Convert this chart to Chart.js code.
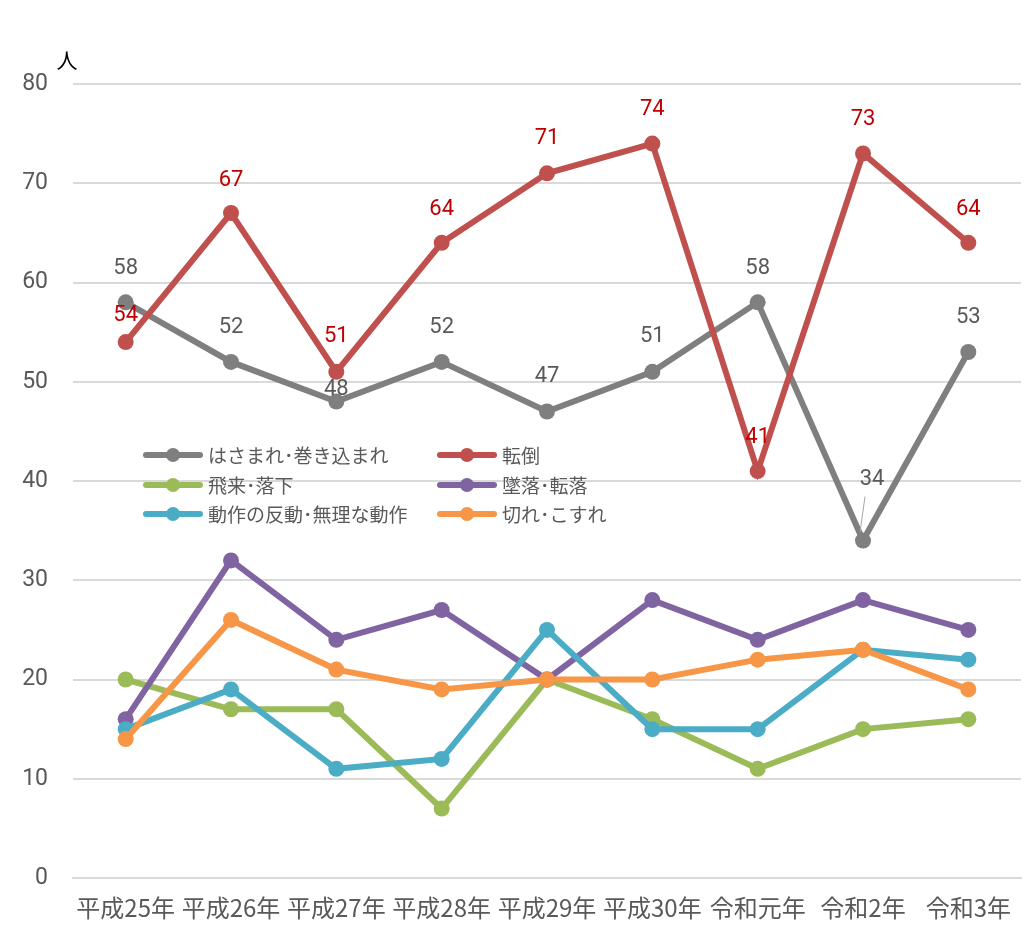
<!DOCTYPE html>
<html><head><meta charset="utf-8">
<script src="https://cdn.jsdelivr.net/npm/chart.js@4"></script>
<style>html,body{margin:0;padding:0;background:#fff}#wrap{width:1024px;height:926px}</style>
</head><body><div id="wrap"><canvas id="c" width="1024" height="926"></canvas></div>
<script>
const categories = ['平成25年','平成26年','平成27年','平成28年','平成29年','平成30年','令和元年','令和2年','令和3年'];
const seriesNames = ['はさまれ･巻き込まれ','転倒','飛来･落下','墜落･転落','動作の反動･無理な動作','切れ･こすれ'];
const hasamare = [58,52,48,52,47,51,58,34,53];
const tentou = [54,67,51,64,71,74,41,73,64];
const hirai = [20,17,17,7,20,16,11,15,16];
const tsuiraku = [16,32,24,27,20,28,24,28,25];
const handou = [15,19,11,12,25,15,15,23,22];
const kire = [14,26,21,19,20,20,22,23,19];
const yTicks = [0,10,20,30,40,50,60,70,80];
const unitLabel = '人';

const colors = ['#7f7f7f','#c0504d','#9bbb59','#8064a2','#4bacc6','#f79646'];
const allData = [hasamare,tentou,hirai,tsuiraku,handou,kire];

const datasets = allData.map((d,i)=>({
  label: seriesNames[i], data: d, borderColor: colors[i], backgroundColor: colors[i],
  borderWidth: 6, pointRadius: 8, pointHoverRadius: 8, pointBorderWidth: 0,
  tension: 0, order: 6 - i, clip: false
}));

// label offsets (px) for data labels: [dx, dy]
const labelCfg = {
  0: {color:'#595959', offs:[[0,-34],[0,-34],[0,-12],[0,-34],[0,-35],[0,-35],[0,-34],[9,-61],[0,-34]]},
  1: {color:'#c00000', offs:[[0,-27],[0,-33],[0,-35],[0,-33],[0,-35],[0,-34],[0,-34],[0,-34],[0,-33]]}
};

const plugin = {
  id: 'custom',
  afterDatasetsDraw(chart) {
    const ctx = chart.ctx;
    ctx.save();
    ctx.font = '22px Roboto, "Noto Sans CJK JP"';
    ctx.textAlign = 'center'; ctx.textBaseline = 'middle';
    Object.keys(labelCfg).forEach(k => {
      const i = +k; const cfg = labelCfg[k];
      const meta = chart.getDatasetMeta(i);
      meta.data.forEach((pt, j) => {
        const [dx, dy] = cfg.offs[j];
        const lx = pt.x + dx, ly = pt.y + dy;
        if (dy < -50) {
          ctx.strokeStyle = '#a6a6a6'; ctx.lineWidth = 1;
          ctx.beginPath(); ctx.moveTo(lx - 7, ly + 17); ctx.lineTo(pt.x - 3, pt.y - 8); ctx.stroke();
        }
        ctx.fillStyle = cfg.color;
        ctx.fillText(String(allData[i][j]), lx, ly);
      });
    });
    // legend
    ctx.font = '19px "Noto Sans CJK JP", Roboto';
    ctx.textAlign = 'left';
    const colX = [143, 437], rowY = [455, 485, 514];
    datasets.forEach((ds, i) => {
      const x = colX[i % 2], y = rowY[Math.floor(i / 2)];
      ctx.strokeStyle = ds.borderColor; ctx.lineWidth = 6; ctx.lineCap = 'round';
      ctx.beginPath(); ctx.moveTo(x + 3, y); ctx.lineTo(x + 57, y); ctx.stroke();
      ctx.fillStyle = ds.borderColor;
      ctx.beginPath(); ctx.arc(x + 30, y, 7, 0, Math.PI * 2); ctx.fill();
      ctx.fillStyle = '#595959';
      ctx.fillText(ds.label, x + 65, y + 1);
    });
    // unit
    ctx.fillStyle = '#000'; ctx.font = '21px "Noto Sans CJK JP"'; ctx.textAlign = 'center';
    ctx.fillText(unitLabel, 67, 60);
    ctx.restore();
  }
};

new Chart(document.getElementById('c'), {
  type: 'line',
  data: { labels: categories, datasets },
  options: {
    responsive: false, animation: false,
    layout: { autoPadding: false, padding: { top: 84, right: 3, left: 0, bottom: 0 } },
    plugins: { legend: { display: false }, tooltip: { enabled: false } },
    scales: {
      x: {
        offset: true,
        grid: { display: false, drawTicks: false },
        border: { color: '#d9d9d9', width: 2 },
        ticks: { color: '#595959', font: { size: 24, family: '"Noto Sans CJK JP", Roboto' }, padding: 15, maxRotation: 0, autoSkip: false },
        afterFit(s) { s.height = 48; s.paddingLeft = 0; s.paddingRight = 0; }
      },
      y: {
        min: 0, max: 80,
        afterBuildTicks(s) { s.ticks = yTicks.map(v => ({ value: v })); },
        grid: { color: '#d9d9d9', lineWidth: 2, drawTicks: false },
        border: { display: false },
        ticks: { color: '#595959', font: { size: 23, family: 'Roboto' }, padding: 25 },
        afterFit(s) { s.width = 73; }
      }
    }
  },
  plugins: [plugin]
});
</script></body></html>
